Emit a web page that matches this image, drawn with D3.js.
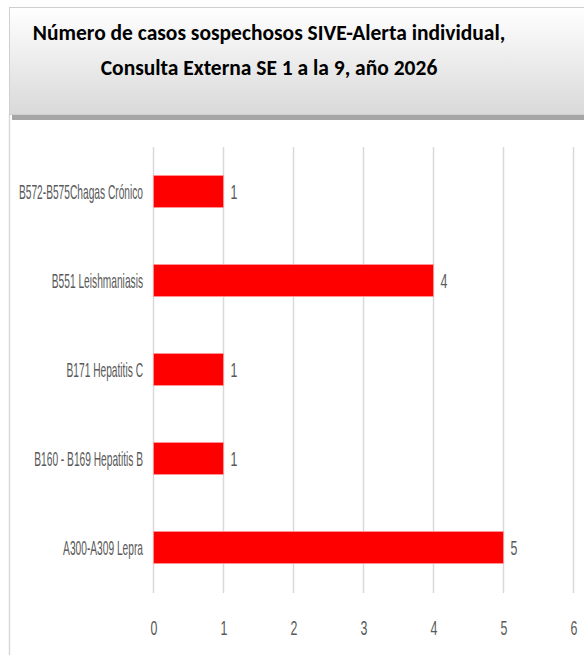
<!DOCTYPE html>
<html><head><meta charset="utf-8">
<script src="https://cdn.jsdelivr.net/npm/d3@7"></script>
<style>body{margin:0;background:#fff;} svg{display:block;}</style>
</head><body>
<script>
const categories = ["B572-B575Chagas Crónico","B551 Leishmaniasis","B171 Hepatitis C","B160 - B169 Hepatitis B","A300-A309 Lepra"];
const values = [1,4,1,1,5];
const xTicks = [0,1,2,3,4,5,6];
const titleLines = ["Número de casos sospechosos SIVE-Alerta individual,","Consulta Externa SE 1 a la 9, año 2026"];

const W=584,H=655;
const svg=d3.select("body").append("svg").attr("width",W).attr("height",H);
const defs=svg.append("defs");
const g=defs.append("linearGradient").attr("id","tg").attr("x1",0).attr("y1",0).attr("x2",0).attr("y2",1);
g.append("stop").attr("offset","0%").attr("stop-color","#ffffff");
g.append("stop").attr("offset","100%").attr("stop-color","#d9d9d9");

svg.append("line").attr("x1",9.5).attr("x2",9.5).attr("y1",114).attr("y2",H).attr("stroke","#d9d9d9").attr("stroke-width",1.5);
svg.append("rect").attr("x",12).attr("y",113).attr("width",W).attr("height",7).attr("fill","#a6a6a6");
svg.append("rect").attr("x",9.5).attr("y",7.5).attr("width",W).attr("height",107).attr("fill","url(#tg)").attr("stroke","#cfcfcf").attr("stroke-width",1);

svg.selectAll("text.title").data(titleLines).join("text").attr("class","title")
  .attr("x",269).attr("y",(d,i)=>40+i*35).attr("text-anchor","middle")
  .style("font-family","Carlito, 'Liberation Sans', sans-serif").style("font-weight","bold")
  .style("font-size","21.5px").attr("fill","#000").text(d=>d);

const x=d3.scaleLinear().domain([0,6]).range([153.5,573.5]);
const y=d3.scaleBand().domain(categories).range([147,592]).paddingInner(0.64).paddingOuter(0.32);

svg.append("g").selectAll("line").data(xTicks).join("line")
  .attr("x1",d=>x(d)).attr("x2",d=>x(d)).attr("y1",147).attr("y2",593)
  .attr("stroke","#d9d9d9").attr("stroke-width",1.5);

const sx=0.51, sxNum=0.62;
function narrow(sel,fs,col){
  sel.style("font-family","'Liberation Sans Narrow','Liberation Sans',sans-serif").style("font-size",fs+"px").attr("fill",col);
}
svg.append("g").selectAll("rect").data(values).join("rect")
  .attr("x",x(0)).attr("y",(d,i)=>y(categories[i])).attr("width",d=>x(d)-x(0)).attr("height",y.bandwidth())
  .attr("fill","#ff0000").attr("stroke","#ff9a9a").attr("stroke-width",0.8);

svg.append("g").selectAll("text").data(categories).join("text")
  .attr("transform",d=>`translate(143,${y(d)+y.bandwidth()/2}) scale(${sx},1)`)
  .attr("text-anchor","end").attr("dy","0.36em").call(narrow,20,"#595959").text(d=>d);

svg.append("g").selectAll("text").data(values).join("text")
  .attr("transform",(d,i)=>`translate(${x(d)+7},${y(categories[i])+y.bandwidth()/2}) scale(${sxNum},1)`)
  .attr("dy","0.36em").call(narrow,20,"#595959").text(d=>d);

const ax=svg.append("g").attr("transform","translate(0,628)")
  .call(d3.axisBottom(x).tickValues(xTicks).tickFormat(d3.format("d")).tickSize(0).tickPadding(0));
ax.select(".domain").remove();
ax.selectAll("text").attr("y",0).attr("x",0).attr("dy","0.36em").attr("transform",`scale(${sxNum},1)`)
  .call(narrow,20,"#595959");
</script>
</body></html>
